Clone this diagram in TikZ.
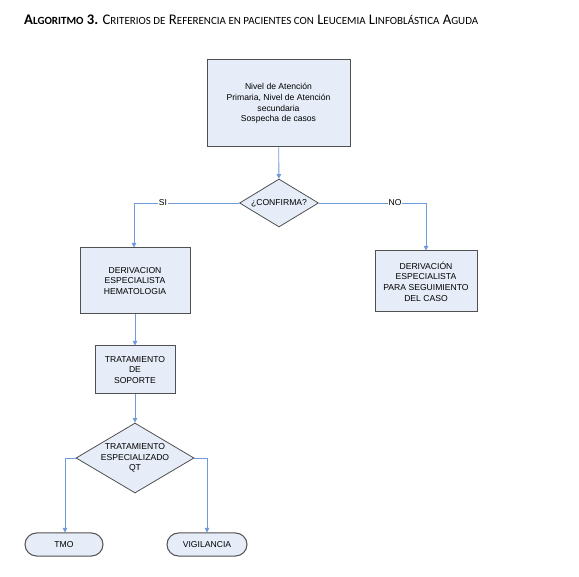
\documentclass[tikz,border=0pt]{standalone}
\usepackage{fontspec}
\setmainfont{Liberation Sans}
\newfontfamily\titlefont{Carlito}
\usetikzlibrary{shapes.geometric,shapes.misc,arrows.meta}
\definecolor{boxfill}{HTML}{E6EDF8}
\definecolor{boxline}{HTML}{505050}
\definecolor{conn}{HTML}{6F9BD9}
\newcommand\SCt[1]{{\fontsize{8.6}{9}\selectfont #1}}
\tikzset{
  box/.style={draw=boxline, fill=boxfill, line width=1pt, align=center, inner sep=0pt,
    font=\fontsize{8.6}{10.6}\selectfont},
  dec/.style={diamond, draw=boxline, fill=boxfill, line width=0.8pt, align=center, inner sep=0pt,
    font=\fontsize{8.6}{10.6}\selectfont},
  term/.style={rounded rectangle, draw=boxline, fill=boxfill, line width=1pt, inner sep=0pt,
    font=\fontsize{8.6}{10.6}\selectfont},
  conline/.style={draw=conn, line width=0.9pt},
  arr/.style={conline, -{Triangle[length=4.5pt,width=4.5pt]}},
  lbl/.style={fill=white, inner sep=1pt, font=\fontsize{8.6}{10}\selectfont}
}
\begin{document}
\begin{tikzpicture}[x=1pt,y=-1pt]
\useasboundingbox (0,0) rectangle (579,577);
% title
\node[anchor=west, inner sep=0pt] (title) at (24,20) {\resizebox{454pt}{!}{\titlefont\fontsize{11.5}{12}\selectfont
  \textbf{A\SCt{LGORITMO} 3.} C\SCt{RITERIOS DE} R\SCt{EFERENCIA EN PACIENTES CON} L\SCt{EUCEMIA} L\SCt{INFOBLÁSTICA} A\SCt{GUDA}}};
% nodes
\node[box, minimum width=143, minimum height=87] (top) at (278.5,103.5)
  {Nivel de Atención\\Primaria, Nivel de Atención\\secundaria\\Sospecha de casos};
\node[dec, minimum width=79, minimum height=48, aspect=1.65] (conf) at (279,203) {¿CONFIRMA?};
\node[box, minimum width=110, minimum height=66] (deriv) at (135,281)
  {DERIVACION\\ESPECIALISTA\\HEMATOLOGIA};
\node[box, minimum width=102, minimum height=61] (derivb) at (426,281.5)
  {DERIVACIÓN\\ESPECIALISTA\\PARA SEGUIMIENTO\\DEL CASO};
\node[box, minimum width=80, minimum height=48] (sop) at (135,370)
  {TRATAMIENTO\\DE\\SOPORTE};
\node[dec, minimum width=118, minimum height=70, aspect=1.69] (esp) at (135,458)
  {TRATAMIENTO\\ESPECIALIZADO\\QT};
\node[term, minimum width=78, minimum height=23] (tmo) at (64,544.5) {TMO};
\node[term, minimum width=80, minimum height=23] (vig) at (207,544.5) {VIGILANCIA};
% connectors
\draw[arr] (top) -- (conf);
\coordinate (siC) at (134,203);
\coordinate (noC) at (426,203);
\draw[arr] (conf.west) -- (siC) -- (siC |- deriv.north);
\draw[arr] (conf.east) -- (noC) -- (noC |- derivb.north);
\node[lbl] (si) at (163,203) {SI};
\node[lbl] (no) at (395,203) {NO};
\draw[arr] (deriv) -- (sop);
\draw[arr] (sop) -- (esp);
\coordinate (tmC) at (65,458);
\coordinate (viC) at (207,458);
\draw[arr] (esp.west) -- (tmC) -- (tmC |- tmo.north);
\draw[arr] (esp.east) -- (viC) -- (viC |- vig.north);
\end{tikzpicture}
\end{document}
